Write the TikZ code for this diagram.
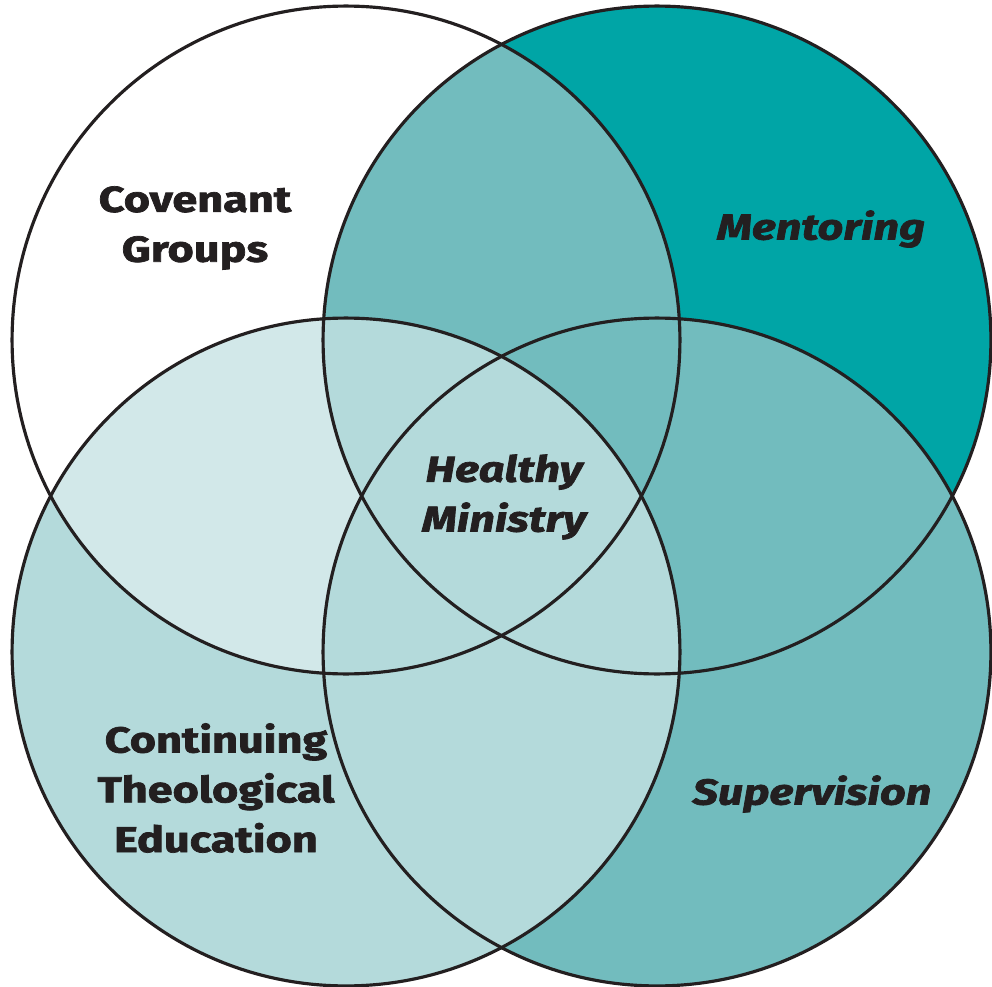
\documentclass[tikz,border=0pt]{standalone}
\usepackage{fontspec}
\usepackage{tikz}
\usetikzlibrary{positioning}
\newfontfamily\vennfont{Fira Sans}[FakeStretch=1.25, BoldFeatures={FakeBold=2}, BoldItalicFeatures={FakeBold=2}]
\definecolor{tealdark}{RGB}{0,165,166}
\definecolor{tealmid}{RGB}{114,188,190}
\definecolor{teallight}{RGB}{180,218,219}
\definecolor{tealpale}{RGB}{210,232,233}
\definecolor{inkline}{RGB}{35,31,32}

\tikzset{
	ring/.style={draw=inkline, line width=1.8pt},
	vennword/.style={align=center, inner sep=0pt, text=inkline,
		font=\vennfont\bfseries\fontsize{20.5}{28.35}\selectfont},
	vennslant/.style={vennword, font=\vennfont\bfseries\itshape\fontsize{20.5}{28.35}\selectfont}
}

\begin{document}
\begin{tikzpicture}[x=0.02cm,y=-0.02cm]
\useasboundingbox (0,0) rectangle (992,987);
\def\rad{6.68cm}
\coordinate (cov) at (346,340);
\coordinate (men) at (657,340);
\coordinate (cte) at (346,652);
\coordinate (sup) at (657,652);

\fill[tealdark] (men) circle[radius=\rad];
\fill[tealmid] (sup) circle[radius=\rad];
\begin{scope}
	\clip (cov) circle[radius=\rad];
	\fill[tealmid] (men) circle[radius=\rad];
\end{scope}
\fill[teallight] (cte) circle[radius=\rad];
\begin{scope}
	\clip (cov) circle[radius=\rad];
	\clip (cte) circle[radius=\rad];
	\fill[tealpale] (cov) circle[radius=\rad];
	\fill[teallight] (men) circle[radius=\rad];
	\fill[teallight] (sup) circle[radius=\rad];
\end{scope}

\foreach \c in {cov,men,cte,sup}
	\draw[ring] (\c) circle[radius=\rad];

\node[vennword] (covtext) at (195,228) {Covenant\\Groups};
\node[vennslant] (mentext) at (821,229) {Mentoring};
\node[vennslant] (healthtext) at (504,497) {Healthy\\Ministry};
\node[vennword] (ctetext) at (216,788) {Continuing\\Theological\\Education};
\node[vennslant] (suptext) at (812,794) {Supervision};
\end{tikzpicture}
\end{document}
